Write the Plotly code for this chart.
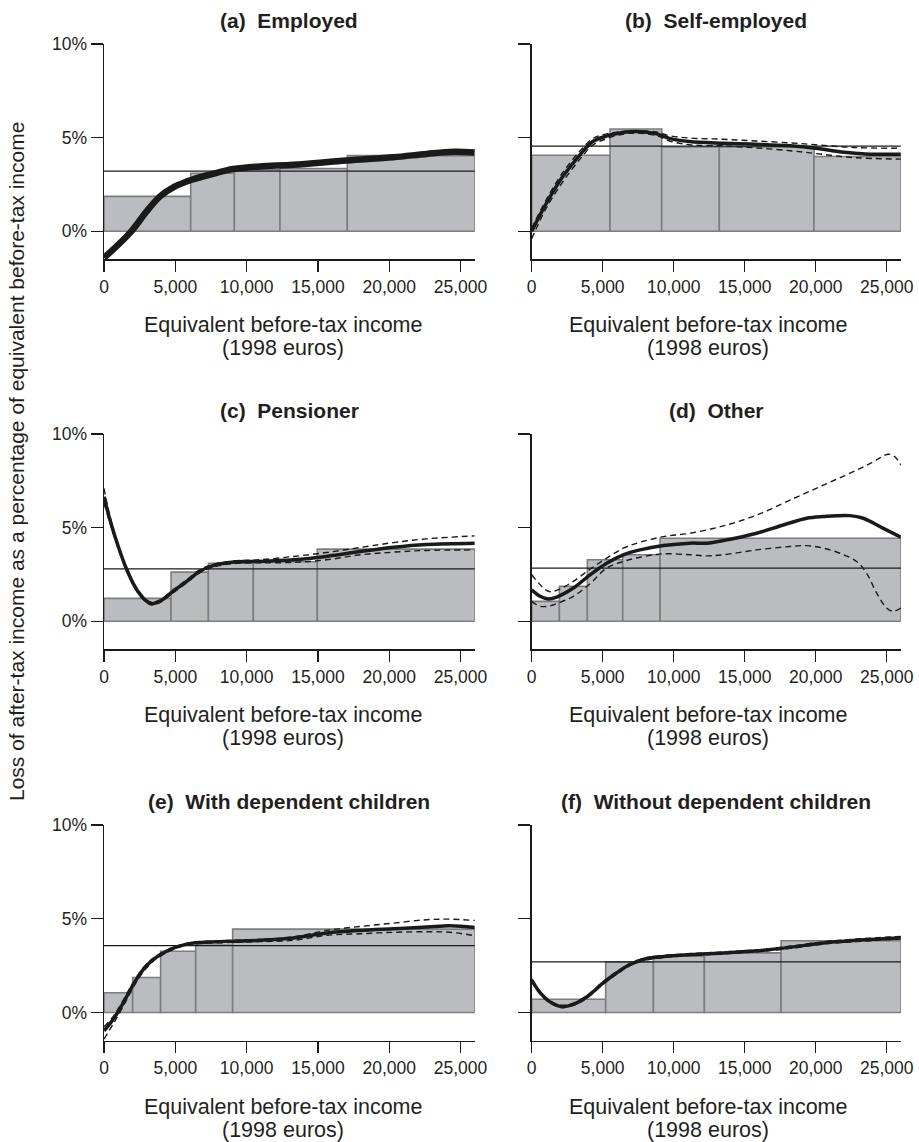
import plotly.graph_objects as go

W, H = 919, 1142

# ---------------- data ----------------
titles = ["(a)  Employed", "(b)  Self-employed", "(c)  Pensioner", "(d)  Other",
          "(e)  With dependent children", "(f)  Without dependent children"]
x_title_lines = ["Equivalent before-tax income", "(1998 euros)"]
y_title = "Loss of after-tax income as a percentage of equivalent before-tax income"

x_ticks = [0, 5000, 10000, 15000, 20000, 25000]
y_ticks = [0, 5, 10]
y_tick_text = ["0%", "5%", "10%"]

# (a) Employed
a_edges = [0, 6080, 9140, 12340, 17060, 26000]
a_heights = [1.86, 3.10, 3.28, 3.35, 4.04]
a_mean = 3.21
a_x = [0, 1820, 2990, 3930, 4980, 6150, 7670, 9070, 10940, 13280, 17020, 20290, 22630, 24500, 26000]
a_y = [-1.42, -0.09, 1.06, 1.86, 2.39, 2.75, 3.07, 3.32, 3.46, 3.55, 3.78, 3.95, 4.13, 4.24, 4.20]

# (b) Self-employed
b_edges = [0, 5516, 9154, 13214, 19880, 26000]
b_heights = [4.06, 5.46, 4.50, 4.50, 3.99]
b_mean = 4.54
b_x = [0, 1000, 2200, 3400, 4300, 5300, 6400, 7400, 8800, 9700, 11100, 13500, 15800, 18200, 20000, 22000, 23500, 26000]
b_y = [0.0, 1.45, 2.93, 4.08, 4.79, 5.09, 5.27, 5.32, 5.20, 4.96, 4.79, 4.70, 4.65, 4.56, 4.43, 4.22, 4.13, 4.11]
b_up = [0.15, 1.65, 3.15, 4.28, 4.95, 5.20, 5.33, 5.36, 5.30, 5.10, 4.98, 4.91, 4.82, 4.72, 4.62, 4.50, 4.45, 4.43]
b_lo = [-0.40, 1.20, 2.65, 3.85, 4.60, 4.95, 5.18, 5.25, 5.10, 4.82, 4.62, 4.56, 4.45, 4.30, 4.15, 3.97, 3.90, 3.85]

# (c) Pensioner
c_edges = [0, 4700, 7320, 10470, 14960, 26000]
c_heights = [1.22, 2.62, 3.10, 3.18, 3.85]
c_mean = 2.80
c_x = [0, 420, 1000, 1600, 2300, 3000, 3350, 3900, 4850, 5800, 6700, 7700, 9100, 10900, 13300, 15600, 18000, 20300, 22600, 26000]
c_y = [6.65, 5.41, 3.99, 2.75, 1.68, 1.06, 0.94, 1.06, 1.60, 2.13, 2.66, 2.98, 3.16, 3.19, 3.28, 3.46, 3.72, 3.95, 4.10, 4.17]
c_up = [7.09, 5.60, 4.10, 2.85, 1.76, 1.13, 1.01, 1.13, 1.68, 2.21, 2.74, 3.05, 3.22, 3.28, 3.46, 3.67, 3.94, 4.20, 4.40, 4.56]
c_lo = [6.30, 5.25, 3.88, 2.65, 1.60, 0.99, 0.87, 0.99, 1.52, 2.05, 2.58, 2.90, 3.08, 3.12, 3.14, 3.28, 3.55, 3.69, 3.78, 3.81]

# (d) Other
d_edges = [0, 1950, 3920, 6410, 9040, 26000]
d_heights = [1.06, 1.86, 3.28, 3.55, 4.43]
d_mean = 2.84
d_x = [0, 590, 1170, 1760, 2930, 4110, 5280, 6450, 7630, 9270, 11150, 12320, 13500, 15840, 17720, 19360, 20540, 22410, 23350, 24760, 26000]
d_y = [1.68, 1.33, 1.19, 1.29, 1.77, 2.48, 3.10, 3.55, 3.81, 4.04, 4.17, 4.17, 4.31, 4.70, 5.14, 5.50, 5.59, 5.64, 5.50, 4.96, 4.49]
d_up_x = [0, 1170, 1760, 2930, 4110, 5280, 6450, 7630, 9270, 11150, 13500, 15840, 18190, 20540, 22880, 24050, 25110, 25580, 26000]
d_up = [2.48, 1.60, 1.65, 2.13, 2.78, 3.37, 3.90, 4.22, 4.52, 4.70, 5.09, 5.67, 6.47, 7.27, 8.07, 8.51, 8.92, 8.78, 8.33]
d_lo_x = [0, 590, 1170, 1760, 2930, 4110, 5280, 6450, 7630, 9270, 11150, 12320, 13500, 15840, 18190, 19360, 20540, 21710, 22880, 23580, 24290, 24990, 25460, 26000]
d_lo = [1.06, 0.80, 0.80, 0.94, 1.33, 2.00, 2.84, 3.19, 3.42, 3.60, 3.55, 3.49, 3.55, 3.81, 3.99, 4.04, 3.90, 3.63, 3.19, 2.57, 1.51, 0.71, 0.53, 0.71]

# (e) With dependent children
e_edges = [0, 2010, 3970, 6430, 9020, 26000]
e_heights = [1.06, 1.87, 3.27, 3.60, 4.45]
e_mean = 3.57
e_x = [0, 650, 1360, 2060, 2760, 3460, 4160, 5100, 6270, 7430, 9070, 10940, 13280, 15620, 17960, 20290, 22630, 24270, 26000]
e_y = [-0.97, -0.35, 0.53, 1.50, 2.30, 2.83, 3.18, 3.50, 3.71, 3.76, 3.80, 3.85, 3.98, 4.24, 4.38, 4.47, 4.56, 4.63, 4.54]
e_up = [-0.75, -0.20, 0.68, 1.62, 2.40, 2.90, 3.24, 3.55, 3.76, 3.81, 3.85, 3.90, 4.03, 4.38, 4.59, 4.77, 4.95, 4.98, 4.91]
e_lo = [-1.41, -0.60, 0.35, 1.36, 2.18, 2.74, 3.10, 3.44, 3.65, 3.70, 3.74, 3.78, 3.85, 4.12, 4.20, 4.28, 4.31, 4.28, 4.10]

# (f) Without dependent children
f_edges = [0, 5210, 8570, 12160, 17560, 26000]
f_heights = [0.71, 2.70, 3.00, 3.18, 3.83]
f_mean = 2.70
f_x = [0, 590, 1290, 2110, 2930, 3870, 5050, 5990, 6920, 7860, 8800, 11150, 13500, 15840, 18190, 20540, 22880, 26000]
f_y = [1.73, 1.06, 0.57, 0.32, 0.44, 0.83, 1.59, 2.12, 2.56, 2.83, 2.95, 3.09, 3.18, 3.29, 3.48, 3.71, 3.85, 3.99]
f_up = [1.80, 1.12, 0.63, 0.38, 0.50, 0.90, 1.66, 2.19, 2.62, 2.89, 3.01, 3.14, 3.23, 3.34, 3.54, 3.77, 3.92, 4.06]
f_lo = [1.66, 1.00, 0.51, 0.26, 0.38, 0.76, 1.52, 2.05, 2.50, 2.77, 2.89, 3.04, 3.13, 3.24, 3.42, 3.65, 3.78, 3.92]

X_MAX = 26000
Y_RANGE = [-1.5, 10]

panels = [
    dict(edges=a_edges, h=a_heights, mean=a_mean, x=a_x, y=a_y, bands=[], lw=6.5),
    dict(edges=b_edges, h=b_heights, mean=b_mean, x=b_x, y=b_y, bands=[(b_x, b_up), (b_x, b_lo)], lw=3.5),
    dict(edges=c_edges, h=c_heights, mean=c_mean, x=c_x, y=c_y, bands=[(c_x, c_up), (c_x, c_lo)], lw=3.5),
    dict(edges=d_edges, h=d_heights, mean=d_mean, x=d_x, y=d_y, bands=[(d_up_x, d_up), (d_lo_x, d_lo)], lw=3.5),
    dict(edges=e_edges, h=e_heights, mean=e_mean, x=e_x, y=e_y, bands=[(e_x, e_up), (e_x, e_lo)], lw=3.5),
    dict(edges=f_edges, h=f_heights, mean=f_mean, x=f_x, y=f_y, bands=[(f_x, f_up), (f_x, f_lo)], lw=3.5),
]

# ---------------- layout geometry (pixels) ----------------
col_px = [(104.0, 474.8), (531.7, 900.9)]
row_px = [(44.0, 259.3), (434.0, 649.3), (825.0, 1040.7)]
xtitle_dx = [-6, -8]

FONT = "Liberation Sans, Arial, Helvetica, sans-serif"
TXT = "#231f20"
BAR_FILL = "#bbbcc0"
BAR_LINE = "#7d7d7f"
INK = "#1a1a1a"

fig = go.Figure()
layout = dict(
    template="none",
    width=W, height=H, autosize=False, margin=dict(l=0, r=0, t=0, b=0, pad=0),
    paper_bgcolor="white", plot_bgcolor="white", showlegend=False,
    barmode="overlay", font=dict(family=FONT, color=TXT, size=17.5),
)
annotations = []

for i, p in enumerate(panels):
    r, c = divmod(i, 2)
    n = i + 1
    xa = "x" if n == 1 else f"x{n}"
    ya = "y" if n == 1 else f"y{n}"
    xkey = "xaxis" if n == 1 else f"xaxis{n}"
    ykey = "yaxis" if n == 1 else f"yaxis{n}"

    x0, x1 = col_px[c]
    top, bot = row_px[r]

    edges = p["edges"]
    centers = [(edges[k] + edges[k + 1]) / 2 for k in range(len(edges) - 1)]
    widths = [edges[k + 1] - edges[k] for k in range(len(edges) - 1)]

    fig.add_trace(go.Bar(x=centers, y=p["h"], width=widths, base=0,
                         marker=dict(color=BAR_FILL, line=dict(color=BAR_LINE, width=1.6)),
                         xaxis=xa, yaxis=ya, hoverinfo="skip"))
    fig.add_trace(go.Scatter(x=[0, X_MAX], y=[p["mean"], p["mean"]], mode="lines",
                             line=dict(color=INK, width=1.2), xaxis=xa, yaxis=ya,
                             hoverinfo="skip"))
    for bx, by in p["bands"]:
        fig.add_trace(go.Scatter(x=bx, y=by, mode="lines",
                                 line=dict(color=INK, width=1.4, dash="6px,4px", shape="spline",
                                           smoothing=1.0),
                                 xaxis=xa, yaxis=ya, hoverinfo="skip"))
    fig.add_trace(go.Scatter(x=p["x"], y=p["y"], mode="lines",
                             line=dict(color=INK, width=p["lw"], shape="spline", smoothing=1.0),
                             xaxis=xa, yaxis=ya, hoverinfo="skip"))

    layout[xkey] = dict(
        domain=[x0 / W, x1 / W], anchor=ya, range=[0, X_MAX], automargin=False,
        showgrid=False, zeroline=False, showline=True, linecolor=INK, linewidth=1.4,
        ticks="outside", ticklen=11, tickwidth=1.4, tickcolor=INK,
        tickvals=x_ticks, tickformat=",d", tickfont=dict(size=17.5, color=TXT, family=FONT),
        fixedrange=True,
    )
    layout[ykey] = dict(
        domain=[1 - bot / H, 1 - top / H], anchor=xa, range=Y_RANGE, automargin=False,
        showgrid=False, zeroline=False, showline=True, linecolor=INK, linewidth=1.4,
        ticks="outside", ticklen=12, tickwidth=1.4, tickcolor=INK,
        tickvals=y_ticks, ticktext=y_tick_text if c == 0 else ["", "", ""],
        tickfont=dict(size=17.5, color=TXT, family=FONT), fixedrange=True,
    )

    cx = (x0 + x1) / 2
    annotations.append(dict(text=f"<b>{titles[i]}</b>", x=cx / W, y=1 - (top - 24) / H,
                            xref="paper", yref="paper", xanchor="center", yanchor="middle",
                            showarrow=False, font=dict(size=21, color=TXT, family=FONT)))
    tx = cx + xtitle_dx[c]
    for k, line in enumerate(x_title_lines):
        annotations.append(dict(text=line, x=tx / W, y=1 - (bot + 66 + 23 * k) / H,
                                xref="paper", yref="paper", xanchor="center", yanchor="middle",
                                showarrow=False, borderpad=0,
                                font=dict(size=21.5, color=TXT, family=FONT)))

annotations.append(dict(text=y_title,
                        x=17 / W, y=1 - 462 / H, xref="paper", yref="paper",
                        xanchor="center", yanchor="middle", textangle=-90, showarrow=False,
                        font=dict(size=21, color=TXT, family=FONT)))

layout["annotations"] = annotations
fig.update_layout(**layout)
fig.write_html("out.html", config={"displayModeBar": False, "staticPlot": True},
               post_script="document.body.style.margin='0px';document.body.style.padding='0px';")
